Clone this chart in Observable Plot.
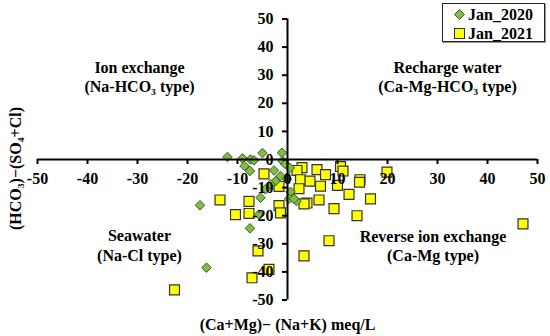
<!DOCTYPE html>
<html>
<head>
<meta charset="utf-8">
<script src="https://cdn.jsdelivr.net/npm/d3@7"></script>
<script src="https://cdn.jsdelivr.net/npm/@observablehq/plot@0.6"></script>
<style>
  html, body { margin: 0; padding: 0; background: #fff; }
  #wrap { position: relative; width: 550px; height: 336px; font-family: "Liberation Serif", "Times New Roman", serif; font-weight: bold; }
  #legend { position: absolute; left: 442px; top: 3px; width: 101px; height: 37px; border: 1.5px solid #222; background: #fff; box-shadow: 1px 1px 0 #999; }
  #legend .row { position: absolute; left: 0; height: 19px; display: flex; align-items: center; font-size: 16px; color: #000; }
  #legend svg { margin-left: 11px; margin-right: 3px; }
</style>
</head>
<body>
<div id="wrap">
  <div id="chart"></div>
  <div id="legend"></div>
</div>
<script>
// ---- data ----
const seriesNames = ["Jan_2020", "Jan_2021"];
const jan2020X = [-12, -9, -7.4, -8.6, -7.5, -5, -1.1, -1, -0.4, -1.4, -2.4, -3.4, -4.4, -5.4, 0.6, 0.3, 1.8, -17.5, -5.7, -7.5, -16.2, -2.7, -0.1, 1.3, 0.5, -6.7];
const jan2020Y = [0.9, 0.4, 0, -2.3, -4.1, 2.3, 2.4, -0.5, -1.7, -5.9, -7.7, -8.8, -10.6, -13.6, -11.5, -14, -14.8, -16.3, -19.6, -24.5, -38.5, -3.9, -6.9, -14, -3, -0.3];
const jan2021X = [-4.7, 2.9, 1.9, 5.9, 7.6, 10.6, 11.1, 14.5, 19.9, 2.6, 4.5, 6.6, 10, 14.4, 12.3, 16.6, 2.3, -1.7, 6.3, 3.9, 3.3, -13.5, -7.7, -1.7, -10.4, -7.7, -1.4, 9.3, 13.9, 8.3, -5.9, -3.7, -7.1, -22.6, 47.1, 3.3];
const jan2021Y = [-5.1, -2.9, -3.9, -3.6, -5.4, -2.5, -4.1, -7.2, -4.5, -7.2, -7.7, -9.5, -9.2, -8.1, -12.4, -14, -10.4, -9.6, -14.4, -15.5, -15.8, -14.4, -14.9, -16.4, -19.6, -19.2, -19, -17.5, -20, -28.9, -32.5, -39.1, -42.1, -46.4, -22.9, -34.3];
const xTicks = [-50, -40, -30, -20, -10, 0, 10, 20, 30, 40, 50];
const yTicks = [-50, -40, -30, -20, -10, 0, 10, 20, 30, 40, 50];
const quadrantTexts = ["Ion exchange\n(Na-HCO\u2083 type)", "Recharge water\n(Ca-Mg-HCO\u2083 type)", "Seawater\n(Na-Cl type)", "Reverse ion exchange\n(Ca-Mg type)"];
const xTitle = "(Ca+Mg)\u2212 (Na+K) meq/L";
const yTitle = "(HCO\u2083)\u2212(SO\u2084+Cl)";

// ---- layout ----
const W = 550, H = 336;
const M = {left: 37, right: 13, top: 18.5, bottom: 36.5};
const xDomain = [-50, 50], yDomain = [-50, 50];
const pxPerX = (W - M.left - M.right) / (xDomain[1] - xDomain[0]);
const pxPerY = (H - M.top - M.bottom) / (yDomain[1] - yDomain[0]);
const tickPx = 5;
const quadrantPos = [[-29.6, 29.7], [32, 29.7], [-29.6, -30.4], [29.1, -30.6]];

const d2020 = jan2020X.map((x, i) => ({x, y: jan2020Y[i]}));
const d2021 = jan2021X.map((x, i) => ({x, y: jan2021Y[i]}));
const quads = quadrantTexts.map((t, i) => ({t, x: quadrantPos[i][0], y: quadrantPos[i][1]}));

const green = "#7fbd45", greenStroke = "#3e5c27";
const yellow = "#ffff00", yellowStroke = "#333";

const chart = Plot.plot({
  width: W, height: H,
  marginLeft: M.left, marginRight: M.right, marginTop: M.top, marginBottom: M.bottom,
  x: {domain: xDomain, axis: null},
  y: {domain: yDomain, axis: null},
  style: {fontFamily: '"Liberation Serif", "Times New Roman", serif', fontWeight: "bold", background: "#fff", overflow: "visible"},
  marks: [
    Plot.text(quads, {x: "x", y: "y", text: "t", fontSize: 16, lineHeight: 1.2, fill: "#000"}),
    Plot.dot(d2021, {x: "x", y: "y", symbol: "square", r: 5.6, fill: yellow, stroke: yellowStroke, strokeWidth: 1.2}),
    Plot.dot(d2020, {x: "x", y: "y", symbol: "diamond2", r: 4.3, fill: green, stroke: greenStroke, strokeWidth: 1}),
    Plot.ruleY([0], {x1: xDomain[0], x2: xDomain[1], stroke: "#000", strokeWidth: 2}),
    Plot.ruleX([0], {y1: yDomain[0], y2: yDomain[1], stroke: "#000", strokeWidth: 2}),
    Plot.ruleX(xTicks, {x: d => d, y1: 0, y2: -tickPx / pxPerY, stroke: "#000", strokeWidth: 2}),
    Plot.ruleY(yTicks, {y: d => d, x1: 0, x2: -tickPx / pxPerX, stroke: "#000", strokeWidth: 2}),
    Plot.text(xTicks, {x: d => d, y: 0, dy: 19, text: d => String(d), fontSize: 16, fill: "#000"}),
    Plot.text(yTicks, {x: 0, y: d => d, dx: -14, text: d => String(d), textAnchor: "end", fontSize: 16, fill: "#000"}),
    Plot.text([xTitle], {frameAnchor: "bottom", dy: 25, lineAnchor: "middle", textAnchor: "middle", text: d => d, fontSize: 16, fill: "#000"}),
    Plot.text([yTitle], {frameAnchor: "left", dx: -22, dy: 9, rotate: -90, lineAnchor: "middle", textAnchor: "middle", text: d => d, fontSize: 16, fill: "#000"})
  ]
});
document.getElementById("chart").appendChild(chart);

// ---- legend ----
const legend = document.getElementById("legend");
const legendSyms = [
  `<svg width="11" height="11" viewBox="0 0 11 11"><polygon points="5.5,0.5 10.5,5.5 5.5,10.5 0.5,5.5" fill="${green}" stroke="${greenStroke}" stroke-width="1"/></svg>`,
  `<svg width="11" height="11" viewBox="0 0 11 11"><rect x="0.5" y="0.5" width="10" height="10" fill="${yellow}" stroke="${yellowStroke}" stroke-width="1"/></svg>`
];
seriesNames.forEach((name, i) => {
  const row = document.createElement("div");
  row.className = "row";
  row.style.top = (i === 0 ? 1 : 20) + "px";
  row.innerHTML = legendSyms[i] + `<span>${name}</span>`;
  legend.appendChild(row);
});
</script>
</body>
</html>
